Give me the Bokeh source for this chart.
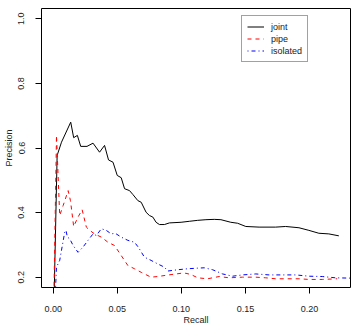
from bokeh.plotting import figure
from bokeh.models import Range1d, FixedTicker, PrintfTickFormatter, Legend, LegendItem
from bokeh.embed import file_html
from bokeh.resources import INLINE

# Data
joint_recall = [0.0, 0.0031, 0.0065, 0.0137, 0.016, 0.0189, 0.0215, 0.0264, 0.0311, 0.0362,
                0.0401, 0.0432, 0.0467, 0.050, 0.0531, 0.0557, 0.0596, 0.0622, 0.0661, 0.0687,
                0.0725, 0.0751, 0.0778, 0.0803, 0.0829, 0.0868, 0.0907, 0.0998, 0.1062, 0.1128,
                0.1192, 0.1257, 0.1309, 0.1386, 0.1439, 0.1503, 0.1607, 0.1736, 0.1814, 0.1918,
                0.1995, 0.2073, 0.2151, 0.2229]
joint_precision = [0.0, 0.577, 0.618, 0.680, 0.632, 0.639, 0.605, 0.605, 0.615, 0.587,
                   0.608, 0.563, 0.556, 0.515, 0.508, 0.474, 0.468, 0.456, 0.437, 0.432,
                   0.401, 0.391, 0.386, 0.370, 0.363, 0.363, 0.368, 0.370, 0.373, 0.376,
                   0.378, 0.379, 0.378, 0.370, 0.367, 0.357, 0.355, 0.355, 0.357, 0.353,
                   0.345, 0.336, 0.334, 0.328]

pipe_recall = [0.0, 0.0026, 0.0051, 0.0078, 0.0117, 0.0135, 0.016, 0.0194, 0.0226, 0.0259,
               0.0285, 0.0323, 0.0376, 0.0428, 0.0479, 0.0531, 0.0583, 0.0635, 0.0687, 0.0764,
               0.0816, 0.0920, 0.0998, 0.1036, 0.1076, 0.1128, 0.1205, 0.1296, 0.1373, 0.1477,
               0.1581, 0.1659, 0.1736, 0.1814, 0.1918, 0.1995, 0.2100, 0.2216]
pipe_precision = [0.0, 0.639, 0.391, 0.422, 0.468, 0.437, 0.357, 0.386, 0.409, 0.355,
                  0.345, 0.334, 0.324, 0.308, 0.298, 0.267, 0.236, 0.226, 0.215, 0.200,
                  0.202, 0.208, 0.212, 0.212, 0.208, 0.198, 0.195, 0.202, 0.198, 0.200,
                  0.200, 0.198, 0.195, 0.195, 0.195, 0.193, 0.193, 0.195]

isolated_recall = [0.0, 0.0026, 0.0051, 0.0090, 0.0100, 0.0111, 0.0129, 0.0156, 0.0194, 0.0233,
                   0.0272, 0.0311, 0.0337, 0.0376, 0.0414, 0.0453, 0.0484, 0.0531, 0.0583, 0.0635,
                   0.0666, 0.0712, 0.0764, 0.0816, 0.0868, 0.0894, 0.0972, 0.1050, 0.1128, 0.1179,
                   0.1244, 0.1322, 0.1400, 0.1477, 0.1581, 0.1684, 0.1789, 0.1892, 0.1995, 0.2100,
                   0.2203, 0.2320]
isolated_precision = [0.0, 0.231, 0.252, 0.339, 0.345, 0.324, 0.319, 0.298, 0.277, 0.293,
                      0.314, 0.334, 0.329, 0.350, 0.345, 0.334, 0.336, 0.324, 0.314, 0.308,
                      0.292, 0.262, 0.252, 0.241, 0.231, 0.219, 0.223, 0.226, 0.228, 0.229,
                      0.223, 0.210, 0.203, 0.207, 0.210, 0.207, 0.207, 0.207, 0.203, 0.202,
                      0.198, 0.197]

x_ticks = [0.0, 0.05, 0.10, 0.15, 0.20]
y_ticks = [0.2, 0.4, 0.6, 0.8, 1.0]

FONT = "Liberation Sans"
TXT = "#222222"

p = figure(width=355, height=329, output_backend="svg", toolbar_location=None,
           x_range=Range1d(-0.0091, 0.2320), y_range=Range1d(0.168, 1.032),
           min_border_left=40, min_border_right=5, min_border_top=8, min_border_bottom=42)
p.background_fill_color = "white"
p.border_fill_color = "white"
p.outline_line_color = "black"
p.outline_line_width = 1
p.xgrid.visible = False
p.ygrid.visible = False

l1 = p.line(joint_recall, joint_precision, line_color="black", line_width=1)
l2 = p.line(pipe_recall, pipe_precision, line_color="red", line_width=1, line_dash="4 4")
l3 = p.line(isolated_recall, isolated_precision, line_color="blue", line_width=1, line_dash="1 3 4 3")

for ax in (p.xaxis[0], p.yaxis[0]):
    ax.axis_line_color = None
    ax.major_tick_line_color = "black"
    ax.major_tick_in = 0
    ax.major_tick_out = 6
    ax.minor_tick_line_color = None
    ax.major_label_text_font = FONT
    ax.major_label_text_font_size = "9px"
    ax.major_label_text_color = TXT
    ax.axis_label_text_font = FONT
    ax.axis_label_text_font_size = "9px"
    ax.axis_label_text_font_style = "normal"
    ax.axis_label_text_color = TXT

p.xaxis[0].ticker = FixedTicker(ticks=x_ticks)
p.xaxis[0].formatter = PrintfTickFormatter(format="%.2f")
p.xaxis[0].axis_label = "Recall"
p.xaxis[0].major_label_standoff = 12
p.xaxis[0].axis_label_standoff = 0

p.yaxis[0].ticker = FixedTicker(ticks=y_ticks)
p.yaxis[0].formatter = PrintfTickFormatter(format="%.1f")
p.yaxis[0].axis_label = "Precision"
p.yaxis[0].major_label_orientation = "parallel"
p.yaxis[0].major_label_standoff = 11
p.yaxis[0].axis_label_standoff = 2

legend = Legend(items=[LegendItem(label="joint", renderers=[l1]),
                       LegendItem(label="pipe", renderers=[l2]),
                       LegendItem(label="isolated", renderers=[l3])],
                location=(200, 225))
legend.label_text_font = FONT
legend.label_text_font_size = "9px"
legend.label_text_color = TXT
legend.label_height = 11
legend.glyph_height = 11
legend.glyph_width = 17
legend.label_standoff = 7
legend.spacing = 1
legend.padding = 5
legend.margin = 0
legend.border_line_color = "#444444"
legend.border_line_width = 1
legend.background_fill_alpha = 1
p.add_layout(legend)

open("out.html", "w").write(file_html(p, INLINE))
